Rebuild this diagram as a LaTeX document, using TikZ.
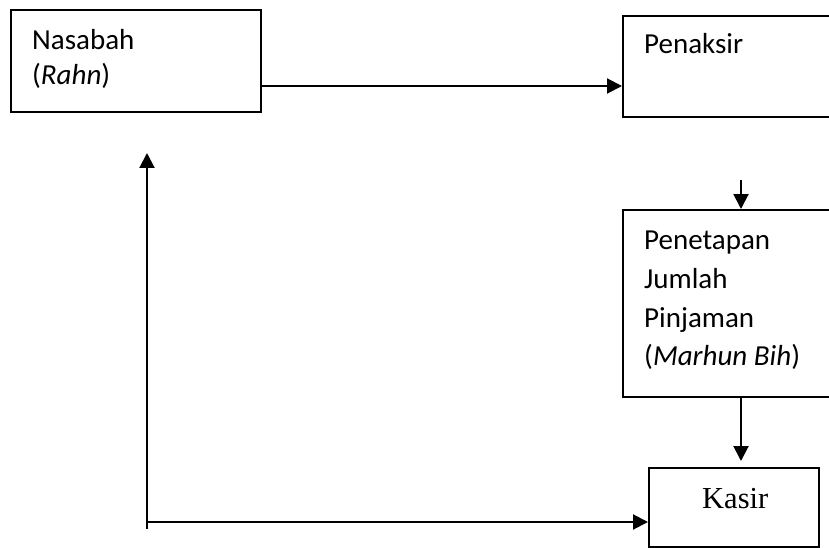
\documentclass[tikz,border=0pt]{standalone}
\usepackage{fontspec}
\setmainfont{Carlito}
\newfontfamily\tmsfont{Liberation Serif}
\usetikzlibrary{arrows.meta}
\tikzset{
  box/.style={draw, line width=2pt, rectangle, inner sep=0pt},
  txt/.style={anchor=base west, inner sep=0pt, font=\fontsize{29}{35}\selectfont},
  ktxt/.style={anchor=base west, inner sep=0pt, font=\tmsfont\fontsize{30.5}{36}\selectfont},
  arr/.style={line width=2pt, -{Triangle[length=15pt,width=15pt]}},
  ln/.style={line width=2pt}
}
\begin{document}
\begin{tikzpicture}[x=1pt,y=-1pt]
\useasboundingbox (0,0) rectangle (829,548);
\clip (0,0) rectangle (829,548);
% boxes
\node[box, minimum width=250pt, minimum height=102pt] (nas) at (136,61) {};
\node[box, minimum width=240pt, minimum height=101pt] (pen) at (743,66.5) {};
\node[box, minimum width=240pt, minimum height=187pt] (pet) at (743,303.5) {};
\node[box, minimum width=170pt, minimum height=79pt] (kas) at (734,507.5) {};
% texts
\node[txt] (t1) at (32,50) {Nasabah};
\node[txt] (t2) at (32,85) {(\textit{Rahn})};
\node[txt] (t3) at (644,54) {Penaksir};
\node[txt] (t4) at (644,249) {Penetapan};
\node[txt] (t5) at (644,288) {Jumlah};
\node[txt] (t6) at (644,327) {Pinjaman};
\node[txt] (t7) at (644,365) {(\textit{Marhun Bih})};
\node[ktxt] (t8) at (702,508) {Kasir};
% coordinates
\coordinate (a1) at (261,86);
\coordinate (b1) at (741,180);
\coordinate (b2) at (741,461);
\coordinate (c1) at (147,522);
\coordinate (d1) at (147,529);
\coordinate (d2) at (147,153);
% connectors
\draw[arr] (a1) -- (a1 -| pen.west);
\draw[arr] (b1) -- (b1 |- pet.north);
\draw[arr] (b1 |- pet.south) -- (b2);
\draw[arr] (c1) -- (c1 -| kas.west);
\draw[arr] (d1) -- (d2);
\end{tikzpicture}
\end{document}
